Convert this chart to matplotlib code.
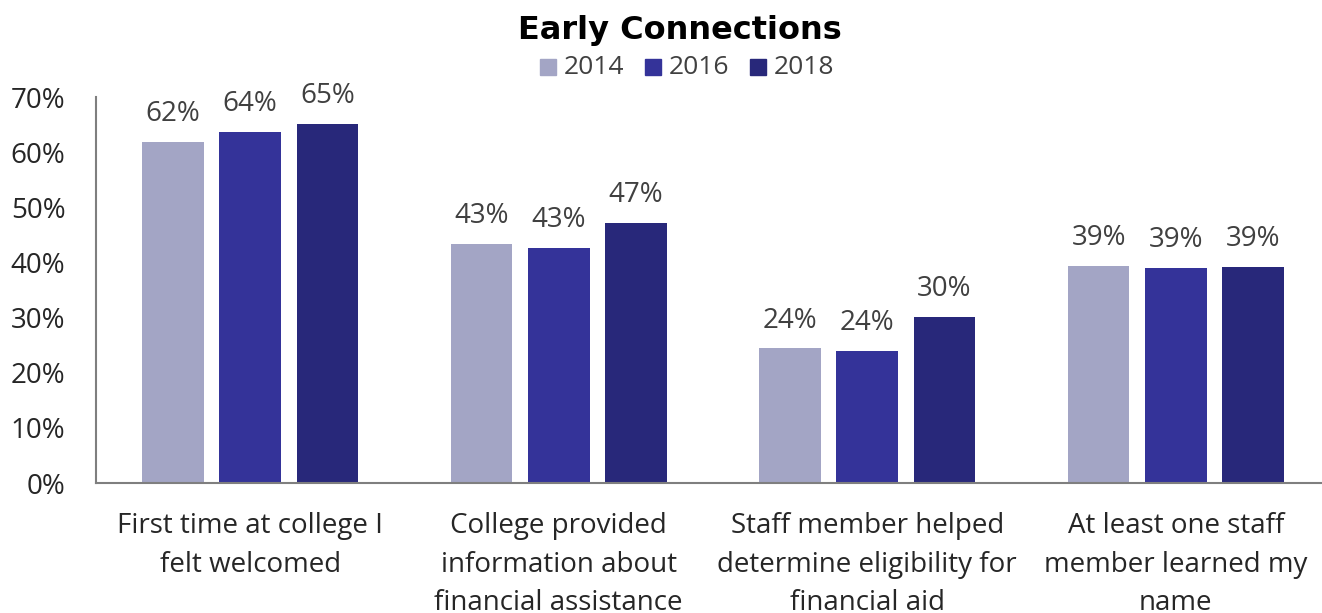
import matplotlib
matplotlib.use("Agg")
import matplotlib.pyplot as plt
import numpy as np
from matplotlib.patches import Rectangle

categories = [
    "First time at college I\nfelt welcomed",
    "College provided\ninformation about\nfinancial assistance",
    "Staff member helped\ndetermine eligibility for\nfinancial aid",
    "At least one staff\nmember learned my\nname",
]
years = ["2014", "2016", "2018"]
values_2014 = [0.618, 0.433, 0.244, 0.394]
values_2016 = [0.637, 0.427, 0.239, 0.390]
values_2018 = [0.651, 0.471, 0.301, 0.392]
yticks = [0.0, 0.1, 0.2, 0.3, 0.4, 0.5, 0.6, 0.7]

series = [values_2014, values_2016, values_2018]
colors = ["#A3A5C5", "#343399", "#28287A"]

FONT = "Open Sans"
TXT = "#404040"
plt.rcParams["font.family"] = [FONT, "DejaVu Sans"]

W, H = 1322, 613
fig = plt.figure(figsize=(W / 100, H / 100), dpi=100)

# axes spans from x=96 px to beyond the right edge, y from 97 px (70%) to 483 px (0%)
left, right, top, bottom = 96, 1330, 97, 483
ax = fig.add_axes([left / W, (H - bottom) / H, (right - left) / W, (bottom - top) / H])

x = np.arange(len(categories))
width = 0.2
offsets = [-0.25, 0.0, 0.25]
for vals, col, off in zip(series, colors, offsets):
    bars = ax.bar(x + off, vals, width, color=col, edgecolor="none", zorder=2)
    for b, v in zip(bars, vals):
        ax.annotate(f"{v:.0%}", (b.get_x() + b.get_width() / 2, v),
                    xytext=(0, 10), textcoords="offset points",
                    ha="center", va="bottom", fontsize=20, color=TXT)

ax.set_xlim(-0.5, len(categories) - 0.5)
ax.set_ylim(0, 0.7)
ax.set_yticks(yticks)
ax.set_yticklabels([f"{t:.0%}" for t in yticks], fontsize=20, color="#262626")
ax.set_xticks(x)
ax.set_xticklabels(categories, fontsize=20, color="#262626", linespacing=1.5)
ax.tick_params(axis="both", length=0)
ax.tick_params(axis="y", pad=22)
ax.tick_params(axis="x", pad=21)

for s in ["top", "right"]:
    ax.spines[s].set_visible(False)
for s in ["left", "bottom"]:
    ax.spines[s].set_color("#7F7F7F")
    ax.spines[s].set_linewidth(1.5)

fig.text(680 / W, 1 - 30 / H, "Early Connections", ha="center", va="center",
         fontsize=23, fontweight="bold", color="black",
         family=["DejaVu Sans"])

# legend row under the title
leg_y = 1 - 67 / H
entries_x = [540, 645, 750]
for yr, col, ex in zip(years, colors, entries_x):
    fig.patches.append(Rectangle((ex / W, leg_y - 8 / H), 16 / W, 16 / H,
                                 transform=fig.transFigure, color=col))
    fig.text((ex + 24) / W, leg_y, yr, ha="left", va="center",
             fontsize=19, color=TXT)

fig.savefig("out.png", dpi=100)
